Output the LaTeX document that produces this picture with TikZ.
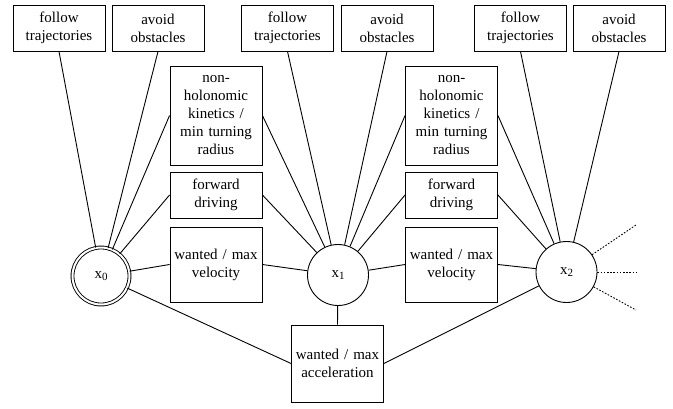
\documentclass[tikz,border=0pt]{standalone}
\usepackage{fontspec}
\setmainfont{Liberation Serif}
\begin{document}
\begin{tikzpicture}[x=1pt,y=-1pt,
  font=\fontsize{15}{18}\selectfont,
  lw/.style={line width=0.9pt},
  box/.style={draw,lw,rectangle,align=center,minimum width=92pt,inner sep=0pt,text width=90pt},
  topbox/.style={box,minimum height=46pt},
  state/.style={draw,lw,circle,minimum size=61pt,inner sep=0pt},
  conn/.style={lw},
  ext/.style={lw,dash pattern=on 1.6pt off 1.6pt}]
\useasboundingbox (0,0) rectangle (673,408);
% top boxes
\node[topbox] (f1) at (59,28) {follow\\trajectories};
\node[topbox] (a1) at (158,28) {avoid\\obstacles};
\node[topbox] (f2) at (287.5,28) {follow\\trajectories};
\node[topbox] (a2) at (387,28) {avoid\\obstacles};
\node[topbox] (f3) at (520.5,28) {follow\\trajectories};
\node[topbox] (a3) at (619,28) {avoid\\obstacles};
% middle boxes
\node[box,minimum height=99pt] (n1) at (216,115.5) {non-\\holonomic\\kinetics /\\min turning\\radius};
\node[box,minimum height=46pt] (d1) at (216,195) {forward\\driving};
\node[box,minimum height=75pt] (v1) at (216,264.5) {wanted / max\\velocity};
\node[box,minimum height=99pt] (n2) at (451.5,115.5) {non-\\holonomic\\kinetics /\\min turning\\radius};
\node[box,minimum height=46pt] (d2) at (451.5,195) {forward\\driving};
\node[box,minimum height=75pt] (v2) at (451.5,264.5) {wanted / max\\velocity};
\node[box,minimum height=77pt] (acc) at (337.5,363.5) {wanted / max\\acceleration};
% states
\node[state,double,double distance=2pt,minimum size=57pt] (x0) at (101,276) {x\raisebox{-0.35ex}{\fontsize{11}{11}\selectfont 0}};
\node[state] (x1) at (338,275) {x\raisebox{-0.35ex}{\fontsize{11}{11}\selectfont 1}};
\node[state] (x2) at (566.5,272) {x\raisebox{-0.35ex}{\fontsize{11}{11}\selectfont 2}};
% connectors x0
\draw[conn] (f1.south) -- (x0);
\draw[conn] (a1.south) -- (x0);
\draw[conn] (n1.west) -- (x0);
\draw[conn] (d1.west) -- (x0);
\draw[conn] (v1.west) -- (x0);
\draw[conn] (acc.west) -- (x0);
% connectors x1
\draw[conn] (f2.south) -- (x1);
\draw[conn] (a2.south) -- (x1);
\draw[conn] (n1.east) -- (x1);
\draw[conn] (d1.east) -- (x1);
\draw[conn] (v1.east) -- (x1);
\draw[conn] (n2.west) -- (x1);
\draw[conn] (d2.west) -- (x1);
\draw[conn] (v2.west) -- (x1);
\draw[conn] (acc.north) -- (x1);
% connectors x2
\draw[conn] (f3.south) -- (x2);
\draw[conn] (a3.south) -- (x2);
\draw[conn] (n2.east) -- (x2);
\draw[conn] (d2.east) -- (x2);
\draw[conn] (v2.east) -- (x2);
\draw[conn] (acc.east) -- (x2);
% continuation
\coordinate (e1) at (636,225);
\coordinate (e2) at (636,272);
\coordinate (e3) at (636,310);
\draw[ext] (x2) -- (e1);
\draw[ext] (x2) -- (e2);
\draw[ext] (x2) -- (e3);
\end{tikzpicture}
\end{document}
